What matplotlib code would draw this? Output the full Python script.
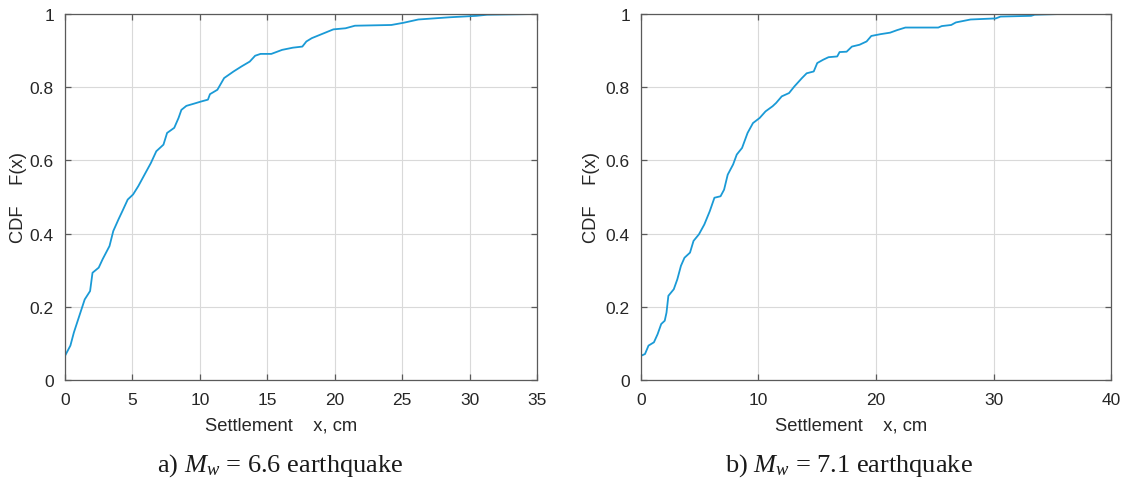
import matplotlib
matplotlib.use("Agg")
import matplotlib.pyplot as plt

x_a = [0, 0, 0.4, 0.66, 1.06, 1.46, 1.86, 2.04, 2.5, 2.79, 3.3, 3.58, 3.98, 4.25,
       4.65, 5.05, 5.44, 5.97, 6.37, 6.77, 7.3, 7.57, 8.1, 8.42, 8.63, 9.0, 9.56,
       10.1, 10.6, 10.75, 11.3, 11.8, 12.5, 13.1, 13.7, 14.1, 14.5, 15.3, 16.1,
       16.9, 17.6, 17.9, 18.3, 18.9, 19.3, 19.9, 20.8, 21.5, 24.2, 25.1, 26.2,
       28.5, 30.5, 31.3, 34.9]
F_a = [0, 0.066, 0.094, 0.13, 0.175, 0.22, 0.243, 0.293, 0.307, 0.33, 0.366,
       0.407, 0.44, 0.461, 0.493, 0.507, 0.53, 0.566, 0.593, 0.625, 0.643, 0.675,
       0.689, 0.716, 0.738, 0.749, 0.755, 0.761, 0.766, 0.781, 0.793, 0.825,
       0.843, 0.857, 0.87, 0.886, 0.891, 0.891, 0.902, 0.908, 0.911, 0.925,
       0.934, 0.943, 0.949, 0.958, 0.961, 0.968, 0.97, 0.976, 0.985, 0.991,
       0.995, 0.998, 1.0]

x_b = [0, 0, 0.34, 0.64, 1.1, 1.41, 1.72, 2.02, 2.17, 2.33, 2.79, 3.09, 3.4, 3.7,
       4.17, 4.47, 4.93, 5.39, 5.85, 6.25, 6.77, 7.07, 7.38, 7.84, 8.15, 8.6,
       9.07, 9.53, 10.1, 10.6, 11.2, 11.5, 11.98, 12.6, 13.05, 13.7, 14.1, 14.7,
       15.0, 15.5, 15.96, 16.7, 16.9, 17.5, 17.95, 18.6, 19.2, 19.6, 20.4, 21.2,
       21.8, 22.5, 25.3, 25.6, 26.4, 26.8, 28.05, 30.2, 30.6, 33.2, 33.5, 35.7]
F_b = [0, 0.066, 0.071, 0.094, 0.103, 0.125, 0.153, 0.162, 0.184, 0.23, 0.248,
       0.275, 0.312, 0.334, 0.348, 0.38, 0.398, 0.425, 0.461, 0.498, 0.502, 0.52,
       0.561, 0.589, 0.616, 0.634, 0.675, 0.702, 0.716, 0.734, 0.748, 0.757,
       0.775, 0.784, 0.802, 0.825, 0.838, 0.843, 0.866, 0.875, 0.882, 0.884,
       0.896, 0.897, 0.911, 0.916, 0.925, 0.94, 0.945, 0.949, 0.956, 0.963,
       0.963, 0.967, 0.97, 0.977, 0.985, 0.988, 0.993, 0.995, 0.998, 1.0]

xticks_a = [0, 5, 10, 15, 20, 25, 30, 35]
xticks_b = [0, 10, 20, 30, 40]
yticks = [0, 0.2, 0.4, 0.6, 0.8, 1]
ytick_labels = ["0", "0.2", "0.4", "0.6", "0.8", "1"]
xlabel = "Settlement    x, cm"
ylabel = "CDF    F(x)"
captions = [r"a) $M_w$ = 6.6 earthquake", r"b) $M_w$ = 7.1 earthquake"]

plt.rcParams["font.family"] = ["Liberation Sans", "DejaVu Sans"]
plt.rcParams["mathtext.fontset"] = "custom"
plt.rcParams["mathtext.it"] = "Liberation Serif:italic"
plt.rcParams["mathtext.rm"] = "Liberation Serif"

fig = plt.figure(figsize=(11.26, 4.81), dpi=100)
W, H = 1126, 481

line_color = "#1a9ad6"
axis_color = "#5a5a5a"
text_color = "#262626"

panels = [
    dict(x=x_a, F=F_a, xticks=xticks_a, xmax=35, px=(65, 537), lab_x=0.458, ylab_px=27, cap_x=280),
    dict(x=x_b, F=F_b, xticks=xticks_b, xmax=40, px=(641, 1111), lab_x=0.448, ylab_px=600, cap_x=849),
]

top_px, bot_px = 15, 381
for i, p in enumerate(panels):
    l, r = p["px"]
    ax = fig.add_axes([l / W, 1 - bot_px / H, (r - l) / W, (bot_px - top_px) / H])
    ax.plot(p["x"], p["F"], color=line_color, lw=1.3)
    ax.set_xlim(0, p["xmax"])
    ax.set_ylim(0, 1)
    ax.set_xticks(p["xticks"])
    ax.set_xticklabels([str(t) for t in p["xticks"]])
    ax.set_yticks(yticks)
    ax.set_yticklabels(ytick_labels)
    ax.grid(True, color="#d9d9d9", lw=0.8)
    ax.set_axisbelow(True)
    for s in ax.spines.values():
        s.set_color(axis_color)
        s.set_linewidth(0.9)
    ax.tick_params(direction="in", top=True, right=True, length=4, width=0.9,
                   color=axis_color, labelsize=12.5, labelcolor=text_color)
    ax.tick_params(axis="x", pad=9)
    ax.tick_params(axis="y", pad=8)
    ax.set_xlabel(xlabel, fontsize=13.2, color=text_color)
    ax.xaxis.set_label_coords(p["lab_x"], -(418 - bot_px) / (bot_px - top_px))
    ax.set_ylabel(ylabel, fontsize=13.2, color=text_color)
    ax.yaxis.set_label_coords((p["ylab_px"] - l) / (r - l), 0.5)
    fig.text(p["cap_x"] / W, 1 - 466 / H, captions[i], ha="center", va="center",
             fontsize=19, family="Liberation Serif", color="#1a1a1a")

fig.savefig("out.png", dpi=100)
